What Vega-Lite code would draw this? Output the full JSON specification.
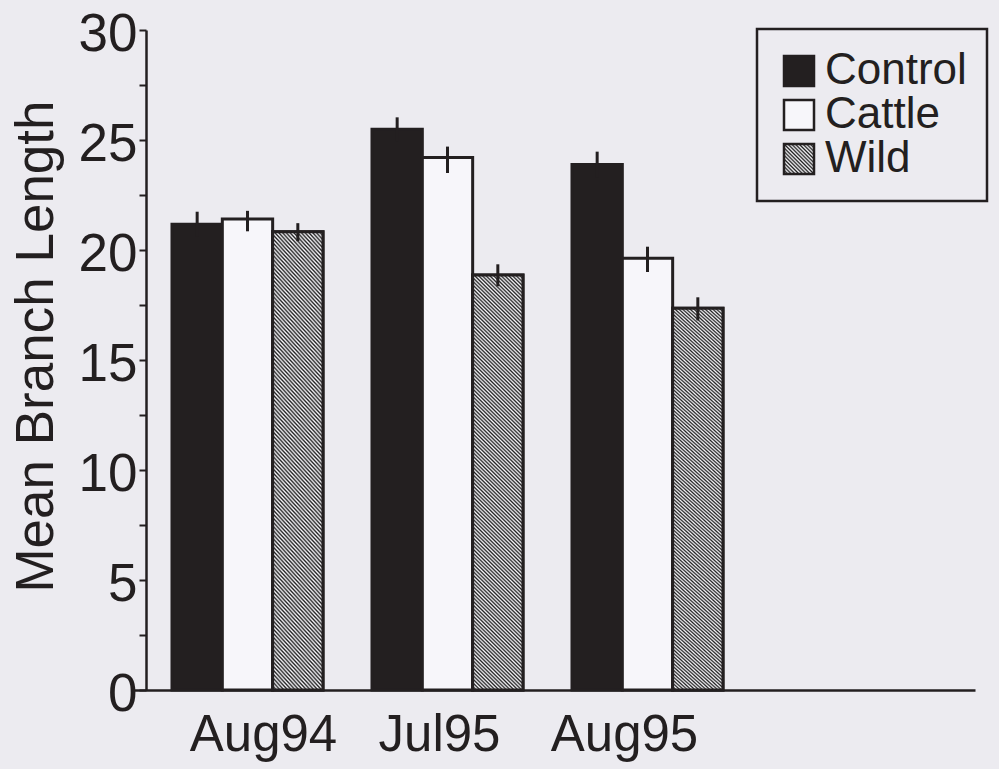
{
  "$schema": "https://vega.github.io/schema/vega-lite/v6.json",
  "width": 829,
  "height": 660,
  "autosize": {"type": "none"},
  "padding": {"left": 146, "top": 30, "right": 24, "bottom": 79},
  "background": "#ecebf0",
  "config": {"view": {"stroke": null}, "font": "Liberation Sans", "legend": {"strokeWidth": 2.5}},
  "data": {"values": [
    {"period": "Aug94", "group": "Control", "mean": 21.17, "lo": 20.6, "hi": 21.74},
    {"period": "Aug94", "group": "Cattle", "mean": 21.41, "lo": 20.85, "hi": 21.78},
    {"period": "Aug94", "group": "Wild", "mean": 20.83, "lo": 20.4, "hi": 21.22},
    {"period": "Jul95", "group": "Control", "mean": 25.49, "lo": 24.95, "hi": 26.03},
    {"period": "Jul95", "group": "Cattle", "mean": 24.21, "lo": 23.5, "hi": 24.7},
    {"period": "Jul95", "group": "Wild", "mean": 18.86, "lo": 18.35, "hi": 19.35},
    {"period": "Aug95", "group": "Control", "mean": 23.89, "lo": 23.3, "hi": 24.47},
    {"period": "Aug95", "group": "Cattle", "mean": 19.62, "lo": 19.0, "hi": 20.15},
    {"period": "Aug95", "group": "Wild", "mean": 17.35, "lo": 16.8, "hi": 17.85}
  ]},
  "encoding": {
    "x": {
      "field": "period", "type": "nominal", "sort": ["Aug94", "Jul95", "Aug95"],
      "scale": {"paddingInner": 0.245, "paddingOuter": 0.695, "align": 0.0935},
      "axis": {
        "title": null, "ticks": false, "grid": false, "labelAngle": 0,
        "domainColor": "#231f20", "domainWidth": 2.5,
        "labelFontSize": 51, "labelColor": "#231f20", "labelPadding": 20,
        "encoding": {
          "labels": {"dx": {"condition": [{"test": "datum.value === 'Aug94'", "value": 16}, {"test": "datum.value === 'Jul95'", "value": -8}], "value": -23}},
          "domain": {"x": {"value": -14}}
        }
      }
    },
    "xOffset": {"field": "group", "type": "nominal", "sort": ["Control", "Cattle", "Wild"], "scale": {"paddingInner": 0, "paddingOuter": 0}}
  },
  "layer": [
    {
      "mark": {"type": "bar", "strokeWidth": 3, "strokeJoin": "miter"},
      "encoding": {
        "y": {
          "field": "mean", "type": "quantitative",
          "scale": {"domain": [0, 30], "nice": false},
          "axis": {
            "values": [0, 2.5, 5, 7.5, 10, 12.5, 15, 17.5, 20, 22.5, 25, 27.5, 30],
            "labelExpr": "datum.value % 5 === 0 ? datum.label : ''",
            "grid": false, "labelOverlap": false,
            "domainColor": "#231f20", "domainWidth": 2.5,
            "tickColor": "#231f20", "tickWidth": 2, "tickSize": 7,
            "labelFontSize": 53, "labelColor": "#231f20", "labelPadding": 2, "labelOffset": 4,
            "title": "Mean Branch Length", "titleFontSize": 53, "titleFontWeight": "normal", "titleColor": "#231f20",
            "titleX": -94, "titleY": 316, "titleAngle": -90, "titleAlign": "center", "titleBaseline": "alphabetic"
          }
        },
        "fill": {
          "field": "group", "type": "nominal", "sort": ["Control", "Cattle", "Wild"],
          "scale": {"range": ["#231f20", "#f7f6fa", "#8a8a8c"]},
          "legend": null
        },
        "stroke": {
          "field": "group", "type": "nominal",
          "scale": {"domain": ["Control", "Cattle", "Wild"], "range": ["#231f20", "#231f20", "#231f20"]},
          "legend": {
            "orient": "none", "legendX": 611, "legendY": -1, "title": null, "direction": "vertical",
            "symbolType": "square", "symbolSize": 900, "symbolStrokeWidth": 2.5,
            "labelFontSize": 44, "labelColor": "#231f20", "labelOffset": 4, "labelLimit": 0,
            "labelExpr": "datum.label + '      '",
            "rowPadding": 0, "padding": 20, "strokeColor": "#231f20",
            "encoding": {"symbols": {
              "strokeWidth": {"value": 2.5},
              "fill": {"condition": [
                {"test": "datum.value === 'Wild'", "value": {"gradient": "linear", "x1": 0, "y1": 1, "x2": 1, "y2": 0, "stops": [
                  {"offset":0,"color":"#222"},{"offset":0.03125,"color":"#f7f6fa"},{"offset":0.0625,"color":"#222"},{"offset":0.09375,"color":"#f7f6fa"},
                  {"offset":0.125,"color":"#222"},{"offset":0.15625,"color":"#f7f6fa"},{"offset":0.1875,"color":"#222"},{"offset":0.21875,"color":"#f7f6fa"},
                  {"offset":0.25,"color":"#222"},{"offset":0.28125,"color":"#f7f6fa"},{"offset":0.3125,"color":"#222"},{"offset":0.34375,"color":"#f7f6fa"},
                  {"offset":0.375,"color":"#222"},{"offset":0.40625,"color":"#f7f6fa"},{"offset":0.4375,"color":"#222"},{"offset":0.46875,"color":"#f7f6fa"},
                  {"offset":0.5,"color":"#222"},{"offset":0.53125,"color":"#f7f6fa"},{"offset":0.5625,"color":"#222"},{"offset":0.59375,"color":"#f7f6fa"},
                  {"offset":0.625,"color":"#222"},{"offset":0.65625,"color":"#f7f6fa"},{"offset":0.6875,"color":"#222"},{"offset":0.71875,"color":"#f7f6fa"},
                  {"offset":0.75,"color":"#222"},{"offset":0.78125,"color":"#f7f6fa"},{"offset":0.8125,"color":"#222"},{"offset":0.84375,"color":"#f7f6fa"},
                  {"offset":0.875,"color":"#222"},{"offset":0.90625,"color":"#f7f6fa"},{"offset":0.9375,"color":"#222"},{"offset":0.96875,"color":"#f7f6fa"},
                  {"offset":1,"color":"#222"}
                ]}},
                {"test": "datum.value === 'Control'", "value": "#231f20"}
              ], "value": "#f7f6fa"}
            }}
          }
        }
      }
    },
    {
      "transform": [{"filter": "datum.group === 'Wild'"}],
      "mark": {"type": "bar", "stroke": "#231f20", "strokeWidth": 3, "strokeJoin": "miter",
        "fill": {"gradient": "linear", "x1": 0, "y1": 1, "x2": 0.132, "y2": -0.104, "stops": [
          {"offset":0,"color":"#222"},{"offset":0.004,"color":"#f7f6fa"},{"offset":0.008,"color":"#222"},{"offset":0.012,"color":"#f7f6fa"},{"offset":0.016,"color":"#222"},{"offset":0.02,"color":"#f7f6fa"},{"offset":0.024,"color":"#222"},{"offset":0.028,"color":"#f7f6fa"},{"offset":0.032,"color":"#222"},{"offset":0.036,"color":"#f7f6fa"},
          {"offset":0.04,"color":"#222"},{"offset":0.044,"color":"#f7f6fa"},{"offset":0.048,"color":"#222"},{"offset":0.052,"color":"#f7f6fa"},{"offset":0.056,"color":"#222"},{"offset":0.06,"color":"#f7f6fa"},{"offset":0.064,"color":"#222"},{"offset":0.068,"color":"#f7f6fa"},{"offset":0.072,"color":"#222"},{"offset":0.076,"color":"#f7f6fa"},
          {"offset":0.08,"color":"#222"},{"offset":0.084,"color":"#f7f6fa"},{"offset":0.088,"color":"#222"},{"offset":0.092,"color":"#f7f6fa"},{"offset":0.096,"color":"#222"},{"offset":0.1,"color":"#f7f6fa"},{"offset":0.104,"color":"#222"},{"offset":0.108,"color":"#f7f6fa"},{"offset":0.112,"color":"#222"},{"offset":0.116,"color":"#f7f6fa"},
          {"offset":0.12,"color":"#222"},{"offset":0.124,"color":"#f7f6fa"},{"offset":0.128,"color":"#222"},{"offset":0.132,"color":"#f7f6fa"},{"offset":0.136,"color":"#222"},{"offset":0.14,"color":"#f7f6fa"},{"offset":0.144,"color":"#222"},{"offset":0.148,"color":"#f7f6fa"},{"offset":0.152,"color":"#222"},{"offset":0.156,"color":"#f7f6fa"},
          {"offset":0.16,"color":"#222"},{"offset":0.164,"color":"#f7f6fa"},{"offset":0.168,"color":"#222"},{"offset":0.172,"color":"#f7f6fa"},{"offset":0.176,"color":"#222"},{"offset":0.18,"color":"#f7f6fa"},{"offset":0.184,"color":"#222"},{"offset":0.188,"color":"#f7f6fa"},{"offset":0.192,"color":"#222"},{"offset":0.196,"color":"#f7f6fa"},
          {"offset":0.2,"color":"#222"},{"offset":0.204,"color":"#f7f6fa"},{"offset":0.208,"color":"#222"},{"offset":0.212,"color":"#f7f6fa"},{"offset":0.216,"color":"#222"},{"offset":0.22,"color":"#f7f6fa"},{"offset":0.224,"color":"#222"},{"offset":0.228,"color":"#f7f6fa"},{"offset":0.232,"color":"#222"},{"offset":0.236,"color":"#f7f6fa"},
          {"offset":0.24,"color":"#222"},{"offset":0.244,"color":"#f7f6fa"},{"offset":0.248,"color":"#222"},{"offset":0.252,"color":"#f7f6fa"},{"offset":0.256,"color":"#222"},{"offset":0.26,"color":"#f7f6fa"},{"offset":0.264,"color":"#222"},{"offset":0.268,"color":"#f7f6fa"},{"offset":0.272,"color":"#222"},{"offset":0.276,"color":"#f7f6fa"},
          {"offset":0.28,"color":"#222"},{"offset":0.284,"color":"#f7f6fa"},{"offset":0.288,"color":"#222"},{"offset":0.292,"color":"#f7f6fa"},{"offset":0.296,"color":"#222"},{"offset":0.3,"color":"#f7f6fa"},{"offset":0.304,"color":"#222"},{"offset":0.308,"color":"#f7f6fa"},{"offset":0.312,"color":"#222"},{"offset":0.316,"color":"#f7f6fa"},
          {"offset":0.32,"color":"#222"},{"offset":0.324,"color":"#f7f6fa"},{"offset":0.328,"color":"#222"},{"offset":0.332,"color":"#f7f6fa"},{"offset":0.336,"color":"#222"},{"offset":0.34,"color":"#f7f6fa"},{"offset":0.344,"color":"#222"},{"offset":0.348,"color":"#f7f6fa"},{"offset":0.352,"color":"#222"},{"offset":0.356,"color":"#f7f6fa"},
          {"offset":0.36,"color":"#222"},{"offset":0.364,"color":"#f7f6fa"},{"offset":0.368,"color":"#222"},{"offset":0.372,"color":"#f7f6fa"},{"offset":0.376,"color":"#222"},{"offset":0.38,"color":"#f7f6fa"},{"offset":0.384,"color":"#222"},{"offset":0.388,"color":"#f7f6fa"},{"offset":0.392,"color":"#222"},{"offset":0.396,"color":"#f7f6fa"},
          {"offset":0.4,"color":"#222"},{"offset":0.404,"color":"#f7f6fa"},{"offset":0.408,"color":"#222"},{"offset":0.412,"color":"#f7f6fa"},{"offset":0.416,"color":"#222"},{"offset":0.42,"color":"#f7f6fa"},{"offset":0.424,"color":"#222"},{"offset":0.428,"color":"#f7f6fa"},{"offset":0.432,"color":"#222"},{"offset":0.436,"color":"#f7f6fa"},
          {"offset":0.44,"color":"#222"},{"offset":0.444,"color":"#f7f6fa"},{"offset":0.448,"color":"#222"},{"offset":0.452,"color":"#f7f6fa"},{"offset":0.456,"color":"#222"},{"offset":0.46,"color":"#f7f6fa"},{"offset":0.464,"color":"#222"},{"offset":0.468,"color":"#f7f6fa"},{"offset":0.472,"color":"#222"},{"offset":0.476,"color":"#f7f6fa"},
          {"offset":0.48,"color":"#222"},{"offset":0.484,"color":"#f7f6fa"},{"offset":0.488,"color":"#222"},{"offset":0.492,"color":"#f7f6fa"},{"offset":0.496,"color":"#222"},{"offset":0.5,"color":"#f7f6fa"},{"offset":0.504,"color":"#222"},{"offset":0.508,"color":"#f7f6fa"},{"offset":0.512,"color":"#222"},{"offset":0.516,"color":"#f7f6fa"},
          {"offset":0.52,"color":"#222"},{"offset":0.524,"color":"#f7f6fa"},{"offset":0.528,"color":"#222"},{"offset":0.532,"color":"#f7f6fa"},{"offset":0.536,"color":"#222"},{"offset":0.54,"color":"#f7f6fa"},{"offset":0.544,"color":"#222"},{"offset":0.548,"color":"#f7f6fa"},{"offset":0.552,"color":"#222"},{"offset":0.556,"color":"#f7f6fa"},
          {"offset":0.56,"color":"#222"},{"offset":0.564,"color":"#f7f6fa"},{"offset":0.568,"color":"#222"},{"offset":0.572,"color":"#f7f6fa"},{"offset":0.576,"color":"#222"},{"offset":0.58,"color":"#f7f6fa"},{"offset":0.584,"color":"#222"},{"offset":0.588,"color":"#f7f6fa"},{"offset":0.592,"color":"#222"},{"offset":0.596,"color":"#f7f6fa"},
          {"offset":0.6,"color":"#222"},{"offset":0.604,"color":"#f7f6fa"},{"offset":0.608,"color":"#222"},{"offset":0.612,"color":"#f7f6fa"},{"offset":0.616,"color":"#222"},{"offset":0.62,"color":"#f7f6fa"},{"offset":0.624,"color":"#222"},{"offset":0.628,"color":"#f7f6fa"},{"offset":0.632,"color":"#222"},{"offset":0.636,"color":"#f7f6fa"},
          {"offset":0.64,"color":"#222"},{"offset":0.644,"color":"#f7f6fa"},{"offset":0.648,"color":"#222"},{"offset":0.652,"color":"#f7f6fa"},{"offset":0.656,"color":"#222"},{"offset":0.66,"color":"#f7f6fa"},{"offset":0.664,"color":"#222"},{"offset":0.668,"color":"#f7f6fa"},{"offset":0.672,"color":"#222"},{"offset":0.676,"color":"#f7f6fa"},
          {"offset":0.68,"color":"#222"},{"offset":0.684,"color":"#f7f6fa"},{"offset":0.688,"color":"#222"},{"offset":0.692,"color":"#f7f6fa"},{"offset":0.696,"color":"#222"},{"offset":0.7,"color":"#f7f6fa"},{"offset":0.704,"color":"#222"},{"offset":0.708,"color":"#f7f6fa"},{"offset":0.712,"color":"#222"},{"offset":0.716,"color":"#f7f6fa"},
          {"offset":0.72,"color":"#222"},{"offset":0.724,"color":"#f7f6fa"},{"offset":0.728,"color":"#222"},{"offset":0.732,"color":"#f7f6fa"},{"offset":0.736,"color":"#222"},{"offset":0.74,"color":"#f7f6fa"},{"offset":0.744,"color":"#222"},{"offset":0.748,"color":"#f7f6fa"},{"offset":0.752,"color":"#222"},{"offset":0.756,"color":"#f7f6fa"},
          {"offset":0.76,"color":"#222"},{"offset":0.764,"color":"#f7f6fa"},{"offset":0.768,"color":"#222"},{"offset":0.772,"color":"#f7f6fa"},{"offset":0.776,"color":"#222"},{"offset":0.78,"color":"#f7f6fa"},{"offset":0.784,"color":"#222"},{"offset":0.788,"color":"#f7f6fa"},{"offset":0.792,"color":"#222"},{"offset":0.796,"color":"#f7f6fa"},
          {"offset":0.8,"color":"#222"},{"offset":0.804,"color":"#f7f6fa"},{"offset":0.808,"color":"#222"},{"offset":0.812,"color":"#f7f6fa"},{"offset":0.816,"color":"#222"},{"offset":0.82,"color":"#f7f6fa"},{"offset":0.824,"color":"#222"},{"offset":0.828,"color":"#f7f6fa"},{"offset":0.832,"color":"#222"},{"offset":0.836,"color":"#f7f6fa"},
          {"offset":0.84,"color":"#222"},{"offset":0.844,"color":"#f7f6fa"},{"offset":0.848,"color":"#222"},{"offset":0.852,"color":"#f7f6fa"},{"offset":0.856,"color":"#222"},{"offset":0.86,"color":"#f7f6fa"},{"offset":0.864,"color":"#222"},{"offset":0.868,"color":"#f7f6fa"},{"offset":0.872,"color":"#222"},{"offset":0.876,"color":"#f7f6fa"},
          {"offset":0.88,"color":"#222"},{"offset":0.884,"color":"#f7f6fa"},{"offset":0.888,"color":"#222"},{"offset":0.892,"color":"#f7f6fa"},{"offset":0.896,"color":"#222"},{"offset":0.9,"color":"#f7f6fa"},{"offset":0.904,"color":"#222"},{"offset":0.908,"color":"#f7f6fa"},{"offset":0.912,"color":"#222"},{"offset":0.916,"color":"#f7f6fa"},
          {"offset":0.92,"color":"#222"},{"offset":0.924,"color":"#f7f6fa"},{"offset":0.928,"color":"#222"},{"offset":0.932,"color":"#f7f6fa"},{"offset":0.936,"color":"#222"},{"offset":0.94,"color":"#f7f6fa"},{"offset":0.944,"color":"#222"},{"offset":0.948,"color":"#f7f6fa"},{"offset":0.952,"color":"#222"},{"offset":0.956,"color":"#f7f6fa"},
          {"offset":0.96,"color":"#222"},{"offset":0.964,"color":"#f7f6fa"},{"offset":0.968,"color":"#222"},{"offset":0.972,"color":"#f7f6fa"},{"offset":0.976,"color":"#222"},{"offset":0.98,"color":"#f7f6fa"},{"offset":0.984,"color":"#222"},{"offset":0.988,"color":"#f7f6fa"},{"offset":0.992,"color":"#222"},{"offset":0.996,"color":"#f7f6fa"},
          {"offset":1,"color":"#222"}
        ]}
      },
      "encoding": {"y": {"field": "mean", "type": "quantitative"}}
    },
    {
      "mark": {"type": "rule", "stroke": "#231f20", "strokeWidth": 3},
      "encoding": {
        "y": {"field": "lo", "type": "quantitative"},
        "y2": {"field": "hi"}
      }
    }
  ]
}
